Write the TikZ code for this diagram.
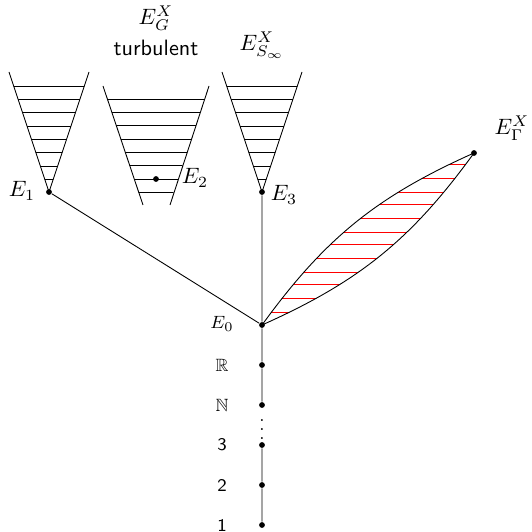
\documentclass[tikz,border=0pt]{standalone}
\usepackage{amssymb}
\usepackage{tikz}
\begin{document}
\begin{tikzpicture}[x=0.45pt, y=-0.45pt]
        \tikzstyle{pt_node} = [shape = circle, fill = black, inner sep = 0pt, minimum size = 2.6pt]
        \tikzstyle{pt_label} = [inner sep = 1pt]
        \tikzstyle{chain_label} = [inner sep = 1pt, font = \footnotesize\sffamily]
        \tikzstyle{hatch_line} = [fill = red]

        \useasboundingbox (0, 0) rectangle (531, 532);

        \node[pt_node] at (49, 192) (E1) {};

        \node[pt_node] at (156, 179) (E2) {};

        \node[pt_node] at (262, 192) (E3) {};

        \node[pt_node] at (262, 325) (E0) {};

        \node[pt_node] at (474, 153) (EGamma) {};

        \node[pt_node] at (262, 365) (R) {};

        \node[pt_node] at (262, 405) (N) {};

        \node[pt_node] at (262, 445) (n3) {};

        \node[pt_node] at (262, 485) (n2) {};

        \node[pt_node] at (262, 525) (n1) {};

        \node[inner sep = 0pt] at (262, 423) (vd) {\footnotesize$\vdots$};

        % cone corners
        \coordinate (c1_l) at (9, 72);
        \coordinate (c1_r) at (89, 72);
        \coordinate (c2_l) at (103, 86);
        \coordinate (c2_r) at (209, 86);
        \coordinate (c2_bl) at (143, 205);
        \coordinate (c2_br) at (170, 205);
        \coordinate (c2_tip) at (156, 245);
        \coordinate (c3_l) at (222, 72);
        \coordinate (c3_r) at (302, 72);

        % hatching
        \begin{scope}
          \clip (c1_l) -- (E1.center) -- (c1_r) -- cycle;
          \foreach \k in {0,...,7}
            \draw (0, 86+13.33*\k) -- (531, 86+13.33*\k);
        \end{scope}
        \begin{scope}
          \clip (c2_l) -- (c2_tip) -- (c2_r) -- cycle;
          \foreach \k in {0,...,7}
            \draw (0, 99+13.33*\k) -- (531, 99+13.33*\k);
        \end{scope}
        \begin{scope}
          \clip (c3_l) -- (E3.center) -- (c3_r) -- cycle;
          \foreach \k in {0,...,7}
            \draw (0, 86+13.33*\k) -- (531, 86+13.33*\k);
        \end{scope}
        \begin{scope}
          \clip (E0.center) to[bend left=15] (EGamma.center) to[bend left=15] (E0.center);
          \foreach \y in {164,178,192,204,218,232,244,258,272,284,298,312}
            \fill[hatch_line] (0, \y) rectangle (531, \y+1);
        \end{scope}

        \draw (c1_l) -- (E1.center) -- (c1_r);
        \draw (c2_l) -- (c2_bl);
        \draw (c2_r) -- (c2_br);
        \draw (c3_l) -- (E3.center) -- (c3_r);
        \draw (E0.center) to[bend left=15] (EGamma.center) to[bend left=15] (E0.center);

        \draw
          (E1) -- (E0)
          (E3) -- (E0)
          (E0) -- (R)
          (R) -- (N)
          (n3) -- (n2)
          (n2) -- (n1)
        ;

        % labels
        \node[pt_label] at (22, 191) (E1_l) {$E_1$};

        \node[pt_label] at (195, 178) (E2_l) {$E_2$};

        \node[pt_label] at (284, 195) (E3_l) {$E_3$};

        \node[pt_label] at (512, 128) (EGamma_l) {$E_\Gamma^X$};

        \node[pt_label] at (156, 18) (EG_l) {$E_G^X$};

        \node[pt_label, font = \sffamily] at (156, 48) (turb_l) {turbulent};

        \node[pt_label] at (262, 45) (ES_l) {$E_{S_\infty}^X$};

        \node[chain_label] at (222, 324) (E0_l) {$E_0$};

        \node[chain_label] at (222, 365) (R_l) {$\mathbb{R}$};

        \node[chain_label] at (222, 405) (N_l) {$\mathbb{N}$};

        \node[chain_label] at (222, 445) (n3_l) {3};

        \node[chain_label] at (222, 485) (n2_l) {2};

        \node[chain_label] at (222, 525) (n1_l) {1};
      \end{tikzpicture}
\end{document}
